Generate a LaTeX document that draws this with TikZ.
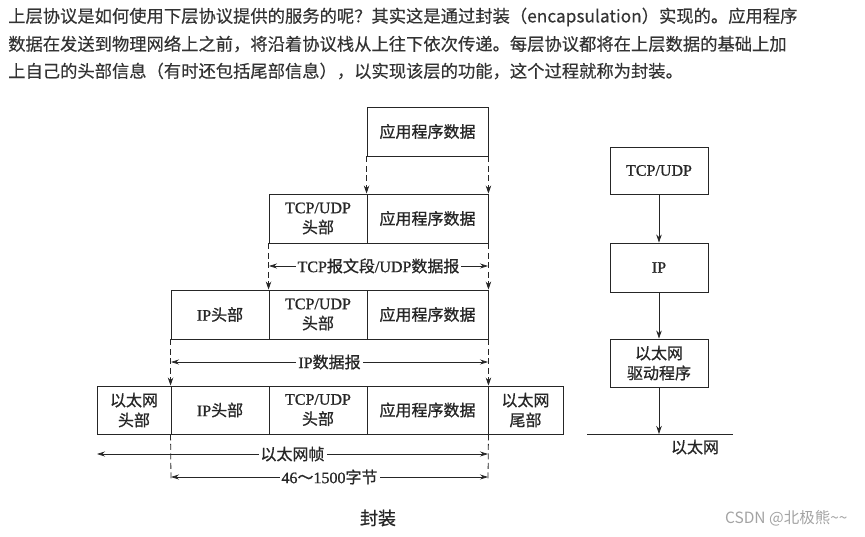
\documentclass[tikz,border=0pt]{standalone}
\usepackage{fontspec}
\setmainfont{Liberation Serif}[FakeBold=0.9]
\newfontfamily\cjk{Noto Sans CJK SC}[FakeBold=0.9]
\newfontfamily\cjkp{Noto Sans CJK SC}[FakeBold=0.4]
\newfontfamily\cjkw{Noto Sans CJK SC}
\usetikzlibrary{arrows.meta}
\definecolor{ink}{HTML}{262626}
\definecolor{para}{HTML}{333333}
\definecolor{wm}{HTML}{A3A3A3}
\begin{document}
\begin{tikzpicture}[x=1pt,y=-1pt,
  cell/.style={draw=ink, line width=0.9pt, minimum height=49pt, inner sep=0pt, align=center,
    font=\fontsize{16}{20}\selectfont, text=ink},
  stack/.style={cell, minimum width=98pt},
  dashdown/.style={draw=ink, line width=0.8pt, dash pattern=on 6pt off 3.5pt,
    -{Stealth[length=8pt,width=5.5pt]}},
  dim/.style={draw=ink, line width=0.7pt,
    {Stealth[length=8pt,width=5pt]}-{Stealth[length=8pt,width=5pt]}},
  dimlab/.style={fill=white, inner sep=2pt, text=ink, font=\fontsize{16}{20}\selectfont},
  vdash/.style={draw=ink, line width=0.8pt, dash pattern=on 6pt off 3.5pt},
  solidarrow/.style={draw=ink, line width=0.8pt, -{Stealth[length=8pt,width=5.5pt]}},
  para/.style={anchor=west, inner sep=0pt, text=para, font=\cjkp\fontsize{17.3}{20}\selectfont}
]
\useasboundingbox (0,0) rectangle (865,536);

% paragraph
\node[para] (p1) at (8,17) {上层协议是如何使用下层协议提供的服务的呢？其实这是通过封装（encapsulation）实现的。应用程序};
\node[para] (p2) at (8,44) {数据在发送到物理网络上之前，将沿着协议栈从上往下依次传递。每层协议都将在上层数据的基础上加};
\node[para] (p3) at (8,71) {上自己的头部信息（有时还包括尾部信息），以实现该层的功能，这个过程就称为封装。};

% row 1
\node[cell, minimum width=121pt] (r1a) at (427.5,131.5) {\cjk 应用程序数据};
% row 2
\node[cell, minimum width=98pt] (r2a) at (318,218.5) {TCP/UDP\\\cjk 头部};
\node[cell, minimum width=121pt] (r2b) at (427.5,218.5) {\cjk 应用程序数据};
% row 3
\node[cell, minimum width=98pt] (r3a) at (220,314.5) {IP{\cjk 头部}};
\node[cell, minimum width=98pt] (r3b) at (318,314.5) {TCP/UDP\\\cjk 头部};
\node[cell, minimum width=121pt] (r3c) at (427.5,314.5) {\cjk 应用程序数据};
% row 4
\node[cell, minimum width=74pt, minimum height=48pt] (r4a) at (134,410) {\cjk 以太网\\\cjk 头部};
\node[cell, minimum width=98pt, minimum height=48pt] (r4b) at (220,410) {IP{\cjk 头部}};
\node[cell, minimum width=98pt, minimum height=48pt] (r4c) at (318,410) {TCP/UDP\\\cjk 头部};
\node[cell, minimum width=121pt, minimum height=48pt] (r4d) at (427.5,410) {\cjk 应用程序数据};
\node[cell, minimum width=75pt, minimum height=48pt] (r4e) at (525.5,410) {\cjk 以太网\\\cjk 尾部};

% dashed transitions
\draw[dashdown] (r1a.south west) -- (r2b.north west);
\draw[dashdown] (r1a.south east) -- (r2b.north east);
\draw[dashdown] (r2a.south west) -- (r3b.north west);
\draw[dashdown] (r2b.south east) -- (r3c.north east);
\draw[dashdown] (r3a.south west) -- (r4b.north west);
\draw[dashdown] (r3c.south east) -- (r4d.north east);

% dimension coordinates
\coordinate (d1l) at (269,266);
\coordinate (d1r) at (488,266);
\coordinate (d2l) at (171,362);
\coordinate (d2r) at (488,362);
\coordinate (d3l) at (97,454);
\coordinate (d3r) at (488,454);
\coordinate (d4l) at (171,477);
\coordinate (d4r) at (488,477);
\coordinate (v4l) at (171,481);
\coordinate (v4r) at (488,481);

\draw[vdash] (r4b.south west) -- (v4l);
\draw[vdash] (r4d.south east) -- (v4r);

\draw[dim] (d1l) -- node[dimlab] (l1) {TCP{\cjk 报文段}/UDP{\cjk 数据报}} (d1r);
\draw[dim] (d2l) -- node[dimlab] (l2) {IP{\cjk 数据报}} (d2r);
\draw[dim] (d3l) -- node[dimlab] (l3) {\cjk 以太网帧} (d3r);
\draw[dim] (d4l) -- node[dimlab] (l4) {46{\cjk ～}1500{\cjk 字节}} (d4r);

\node[text=ink, font=\cjk\fontsize{18}{20}\selectfont] (cap) at (378,518) {封装};

% right stack
\node[stack, minimum height=47pt] (s1) at (659,170.5) {TCP/UDP};
\node[stack] (s2) at (659,267.5) {IP};
\node[stack, minimum height=48pt] (s3) at (659,363) {\cjk 以太网\\\cjk 驱动程序};
\coordinate (gl) at (587,434);
\coordinate (gr) at (733,434);
\coordinate (gm) at (659,434);
\draw[draw=ink, line width=0.9pt] (gl) -- (gr);
\draw[solidarrow] (s1) -- (s2);
\draw[solidarrow] (s2) -- (s3);
\draw[solidarrow] (s3) -- (gm);
\node[text=ink, font=\cjk\fontsize{16}{20}\selectfont] (eth) at (695,447) {以太网};

% watermark
\node[text=wm, font=\cjkw\fontsize{15.5}{18}\selectfont, anchor=east] (wmk) at (851,518) {CSDN @北极熊\textasciitilde\textasciitilde};
\end{tikzpicture}
\end{document}
